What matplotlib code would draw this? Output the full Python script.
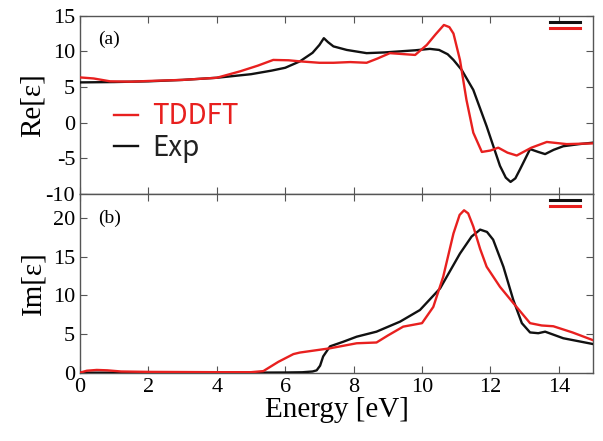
import numpy as np
import matplotlib
matplotlib.use("Agg")
import matplotlib.pyplot as plt
from matplotlib.lines import Line2D

# Re[eps] - experiment
re_exp_x = [0.0, 1.0, 2.0, 3.0, 4.0, 5.0, 5.6, 6.0, 6.43, 6.8, 7.0, 7.13, 7.25, 7.41, 7.8,
            8.38, 8.9, 9.35, 9.8, 10.23, 10.5, 10.75, 10.92, 11.16, 11.5, 11.89, 12.28,
            12.45, 12.59, 12.73, 12.87, 13.16, 13.4, 13.6, 13.85, 14.13, 14.6, 15.0]
re_exp_y = [5.65, 5.7, 5.8, 6.0, 6.3, 6.8, 7.3, 7.7, 8.6, 9.8, 10.9, 11.85, 11.3, 10.7, 10.2,
            9.75, 9.85, 10.0, 10.15, 10.35, 10.2, 9.6, 8.8, 7.4, 4.6, -0.5, -6.05,
            -7.7, -8.3, -7.8, -6.5, -3.7, -4.1, -4.4, -3.8, -3.3, -3.0, -2.8]

# Re[eps] - TDDFT
re_td_x = [0.0, 0.4, 0.88, 1.5, 2.0, 3.0, 4.0, 4.68, 5.2, 5.65, 6.1, 6.43, 7.0, 7.41, 7.9,
           8.38, 8.7, 9.06, 9.5, 9.8, 10.14, 10.4, 10.64, 10.8, 10.92, 11.11, 11.3, 11.5,
           11.75, 12.0, 12.23, 12.5, 12.77, 13.2, 13.65, 14.23, 15.0]
re_td_y = [6.35, 6.2, 5.8, 5.75, 5.85, 6.0, 6.3, 7.2, 8.0, 8.8, 8.75, 8.6, 8.4, 8.4, 8.5,
           8.4, 9.0, 9.75, 9.6, 9.5, 10.9, 12.4, 13.7, 13.4, 12.5, 8.8, 3.2, -1.4,
           -4.1, -3.9, -3.5, -4.2, -4.6, -3.5, -2.7, -3.0, -2.9]

# Im[eps] - experiment
im_exp_x = [0.0, 1.0, 2.0, 3.0, 4.0, 5.0, 6.0, 6.5, 6.8, 6.92, 7.02, 7.11, 7.31, 7.7,
            8.09, 8.67, 9.36, 9.94, 10.53, 11.11, 11.45, 11.70, 11.9, 12.08, 12.38,
            12.67, 12.92, 13.16, 13.4, 13.6, 13.85, 14.13, 15.0]
im_exp_y = [0.0, 0.0, 0.0, 0.0, 0.0, 0.0, 0.02, 0.05, 0.15, 0.3, 0.9, 2.1, 3.4, 4.0,
            4.65, 5.3, 6.6, 8.1, 10.9, 15.4, 17.6, 18.5, 18.2, 17.2, 13.7,
            9.4, 6.4, 5.2, 5.1, 5.3, 4.9, 4.45, 3.7]

# Im[eps] - TDDFT
im_td_x = [0.0, 0.2, 0.49, 0.8, 1.2, 2.0, 3.0, 4.0, 5.0, 5.36, 5.8, 6.24, 6.43, 7.31,
           8.09, 8.67, 9.0, 9.45, 10.0, 10.33, 10.62, 10.92, 11.1, 11.23, 11.35, 11.5,
           11.7, 11.89, 12.28, 12.67, 13.16, 13.5, 13.84, 14.4, 15.0]
im_td_y = [0.0, 0.25, 0.35, 0.3, 0.15, 0.1, 0.08, 0.06, 0.06, 0.2, 1.4, 2.4, 2.6, 3.15,
           3.8, 3.9, 4.8, 5.95, 6.4, 8.5, 12.4, 18.0, 20.4, 21.0, 20.6, 18.9,
           16.0, 13.7, 11.1, 9.0, 6.4, 6.1, 6.0, 5.2, 4.2]

red = '#e8201f'
blk = '#111111'
serif = 'Liberation Serif'
sans = ['Noto Sans CJK JP', 'DejaVu Sans']

fig = plt.figure(figsize=(6.03, 4.41), dpi=100)
ax1 = fig.add_axes([0.1327, 0.560, 0.8507, 0.4044])
ax2 = fig.add_axes([0.1327, 0.155, 0.8507, 0.405])

for ax in (ax1, ax2):
    ax.set_xlim(0, 15)
    ax.set_xticks([0, 2, 4, 6, 8, 10, 12, 14])
    ax.tick_params(direction='in', top=True, right=True, length=5, width=0.8,
                   color='#555555', labelsize=16)
    for s in ax.spines.values():
        s.set_color('#555555')
        s.set_linewidth(1.0)

ax1.plot(re_exp_x, re_exp_y, color=blk, lw=1.7, label='Exp', zorder=3)
ax1.plot(re_td_x, re_td_y, color=red, lw=1.7, label='TDDFT', zorder=4)
ax1.set_ylim(-10, 15)
ax1.set_yticks([-10, -5, 0, 5, 10, 15])
ax1.set_yticklabels(['-10', '-5', '0', '5', '10', '15'], fontfamily=serif)
ax1.tick_params(labelbottom=False)
ax1.set_ylabel('Re[ε]', fontsize=21, fontfamily=serif, labelpad=0)
ax1.text(0.035, 0.84, '(a)', transform=ax1.transAxes, fontsize=14, fontfamily=serif)

ax2.plot(im_exp_x, im_exp_y, color=blk, lw=1.7, zorder=3)
ax2.plot(im_td_x, im_td_y, color=red, lw=1.7, zorder=4)
ax2.set_ylim(0, 23.1)
ax2.set_yticks([0, 5, 10, 15, 20])
ax2.set_yticklabels(['0', '5', '10', '15', '20'], fontfamily=serif)
ax2.set_xticklabels([str(v) for v in [0, 2, 4, 6, 8, 10, 12, 14]], fontfamily=serif)
ax2.set_ylabel('Im[ε]', fontsize=21, fontfamily=serif, labelpad=5)
ax2.set_xlabel('Energy [eV]', fontsize=21, fontfamily=serif, labelpad=0)
ax2.text(0.035, 0.84, '(b)', transform=ax2.transAxes, fontsize=14, fontfamily=serif)

# main legend
h_td = Line2D([], [], color=red, lw=1.7)
h_ex = Line2D([], [], color=blk, lw=1.7)
leg = ax1.legend([h_td, h_ex], ['TDDFT', 'Exp'], loc='lower left',
                 bbox_to_anchor=(0.018, 0.035), frameon=False, handlelength=0.85,
                 handletextpad=0.5, labelspacing=0.05, prop={'family': sans, 'size': 20})
leg.get_texts()[0].set_color(red)
leg.get_texts()[1].set_color('#222222')

# small unlabeled key marks at the top right
for ax in (ax1, ax2):
    k = ax.legend([Line2D([], [], color=blk, lw=2.2), Line2D([], [], color=red, lw=2.2)],
                  ['', ''], loc='upper right', bbox_to_anchor=(0.994, 1.055), frameon=False,
                  handlelength=2.2, handletextpad=0, labelspacing=-0.55,
                  borderaxespad=0.3, prop={'size': 10})
    if ax is ax1:
        ax1.add_artist(leg)

fig.savefig('out.png', dpi=100)
